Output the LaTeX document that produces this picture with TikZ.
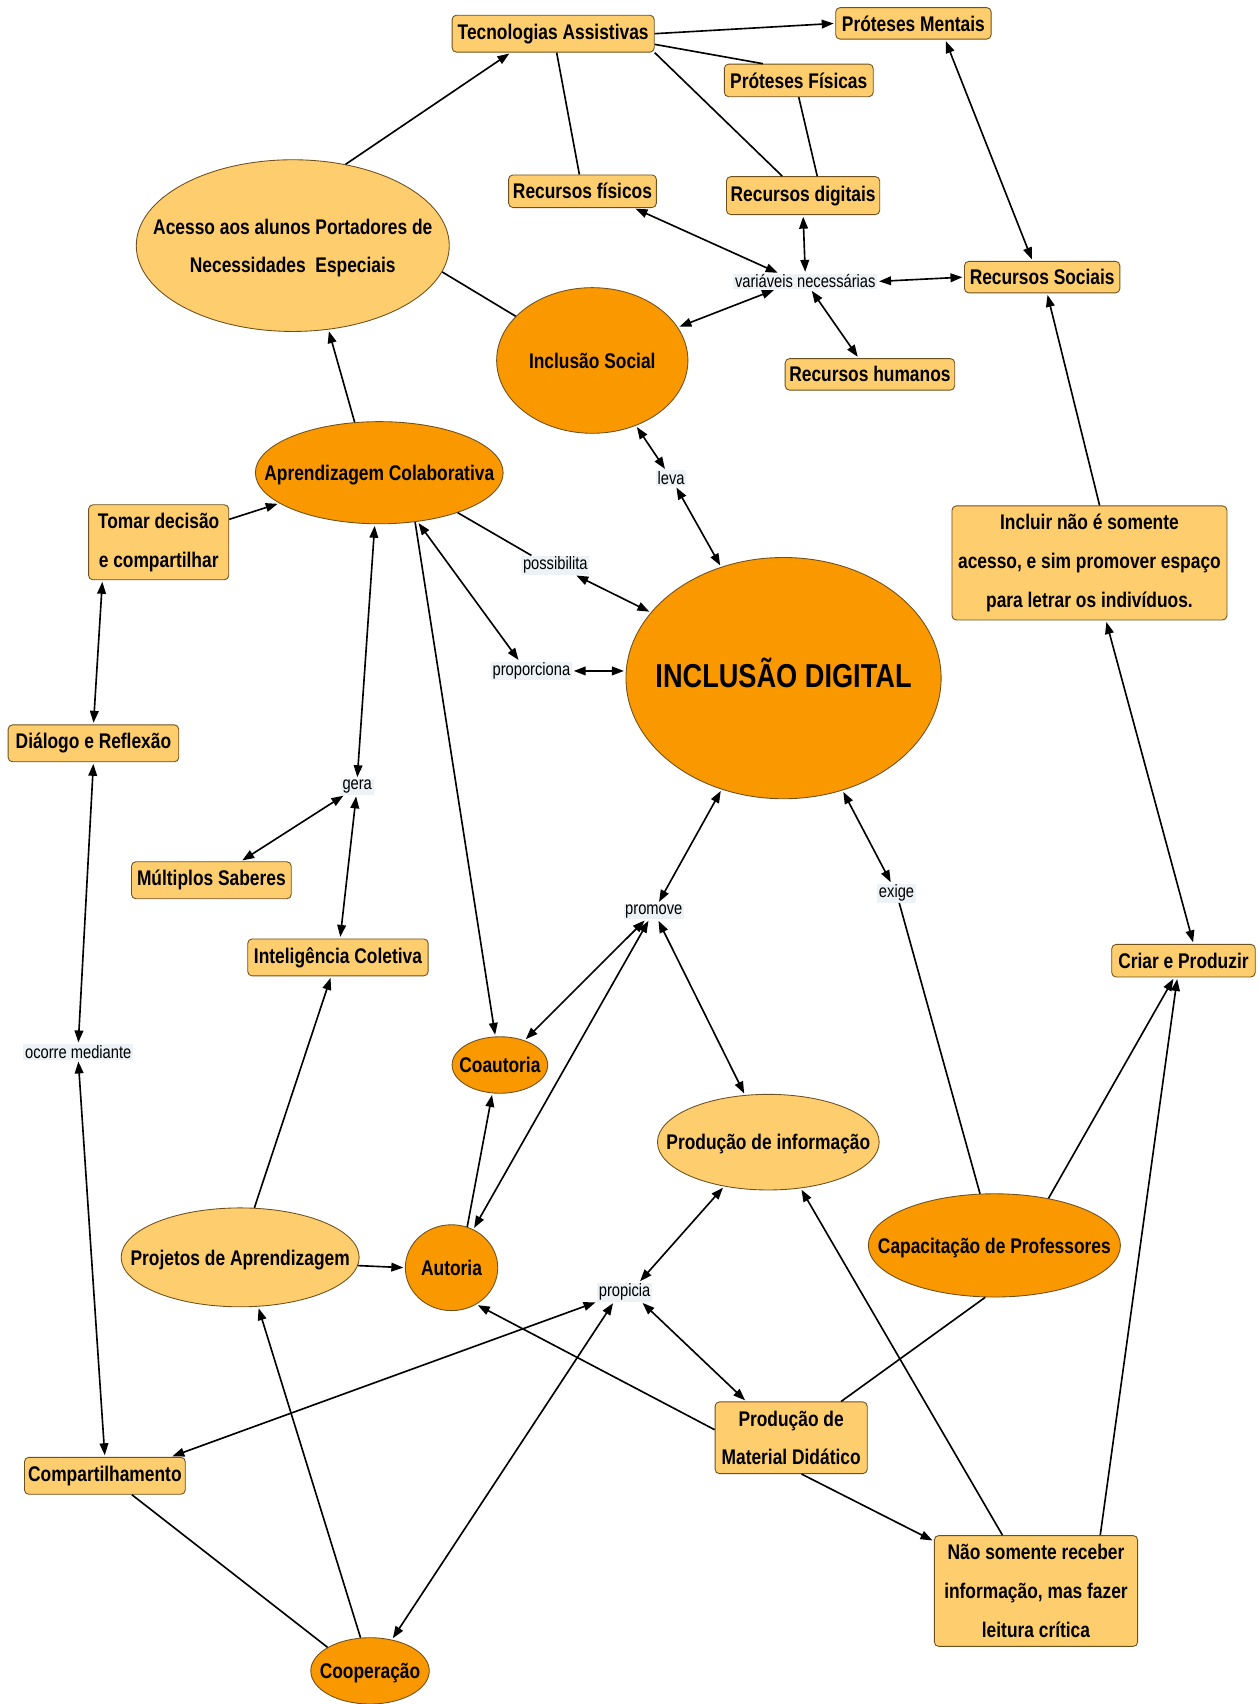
\documentclass[tikz,border=0pt]{standalone}
\usepackage{fontspec}
\setmainfont{Liberation Sans}[FakeStretch=0.82]
\usetikzlibrary{arrows.meta,calc,shapes.geometric}
\definecolor{lightor}{RGB}{254,206,110}
\definecolor{darkor}{RGB}{250,152,0}
\definecolor{edgecol}{RGB}{110,80,30}
\definecolor{labbg}{RGB}{236,242,246}
\newcommand{\etext}[1]{\makebox[0pt]{\begin{tabular}{@{}c@{}}#1\end{tabular}}}
\begin{document}
\begin{tikzpicture}[x=1pt,y=-1pt,
  nfont/.style={font=\fontsize{19.5}{35.5}\selectfont\bfseries},
  conc/.style={nfont, draw=edgecol, line width=0.8pt, fill=lightor, rounded corners=4pt, inner sep=2pt, align=center},
  eli/.style={nfont, ellipse, draw=edgecol, line width=0.8pt, inner sep=0pt},
  lite/.style={eli, fill=lightor},
  dark/.style={eli, fill=darkor},
  lab/.style={font=\fontsize{16.5}{18}\selectfont, fill=labbg, inner xsep=1.5pt, inner ysep=1pt},
  con/.style={line width=1.5pt},
  arr/.style={con, -{Triangle[length=11pt,width=8pt]}, shorten >=1.5pt},
  darr/.style={con, {Triangle[length=11pt,width=8pt]}-{Triangle[length=11pt,width=8pt]}, shorten >=1.5pt, shorten <=1.5pt},
]
\useasboundingbox[fill=white] (0,0) rectangle (1157,1568);

% concept boxes
\node[conc, minimum width=186pt, minimum height=34pt] (TA) at (509,31) {Tecnologias Assistivas};
\node[conc, minimum width=143pt, minimum height=29pt] (PM) at (840.5,21.5) {Próteses Mentais};
\node[conc, minimum width=137pt, minimum height=30pt] (PF) at (735,74) {Próteses Físicas};
\node[conc, minimum width=136pt, minimum height=30pt] (RF) at (536,176) {Recursos físicos};
\node[conc, minimum width=141pt, minimum height=35pt] (RD) at (739,180) {Recursos digitais};
\node[conc, minimum width=143pt, minimum height=29pt] (RS) at (959,255) {Recursos Sociais};
\node[conc, minimum width=156pt, minimum height=29pt] (RH) at (800.5,344.5) {Recursos humanos};
\node[conc, minimum width=129pt, minimum height=69pt] (TD) at (146,499) {Tomar decisão\\e compartilhar};
\node[conc, minimum width=253pt, minimum height=105pt] (IN) at (1002.5,518) {Incluir não é somente\\acesso, e sim promover espaço\\para letrar os indivíduos.};
\node[conc, minimum width=157pt, minimum height=34pt] (DR) at (86,684) {Diálogo e Reflexão};
\node[conc, minimum width=147pt, minimum height=34pt] (MS) at (194.5,810) {Múltiplos Saberes};
\node[conc, minimum width=166pt, minimum height=34pt] (IC) at (311,881) {Inteligência Coletiva};
\node[conc, minimum width=132pt, minimum height=30pt] (CP) at (1089,884) {Criar e Produzir};
\node[conc, minimum width=140pt, minimum height=66pt] (PMD) at (728,1323) {Produção de\\Material Didático};
\node[conc, minimum width=148pt, minimum height=34pt] (CO) at (96.5,1358) {Compartilhamento};
\node[conc, minimum width=187pt, minimum height=102pt] (NS) at (953.3,1464) {Não somente receber\\informação, mas fazer\\leitura crítica};

% ellipses
\node[lite, minimum width=288pt, minimum height=158pt] (AX) at (269.4,226) {\etext{Acesso aos alunos Portadores de\\Necessidades\ \ Especiais}};
\node[dark, minimum width=176pt, minimum height=134pt] (IS) at (545,331.7) {\etext{Inclusão Social}};
\node[dark, minimum width=228pt, minimum height=94pt] (AC) at (349,435) {\etext{Aprendizagem Colaborativa}};
\node[dark, minimum width=290pt, minimum height=222pt, font=\fontsize{30.5}{36}\selectfont\bfseries] (ID) at (721,624) {\etext{INCLUSÃO DIGITAL}};
\node[dark, minimum width=88pt, minimum height=52pt] (COA) at (460,980) {\etext{Coautoria}};
\node[lite, minimum width=204pt, minimum height=88pt] (PI) at (707,1051) {\etext{Produção de informação}};
\node[lite, minimum width=219pt, minimum height=91pt] (PA) at (221,1157) {\etext{Projetos de Aprendizagem}};
\node[dark, minimum width=85pt, minimum height=79pt] (AU) at (415.5,1166.5) {\etext{Autoria}};
\node[dark, minimum width=232pt, minimum height=95pt] (CAP) at (915,1146) {\etext{Capacitação de Professores}};
\node[dark, minimum width=109pt, minimum height=61pt] (COOP) at (340.5,1537.5) {\etext{Cooperação}};

% linking phrases
\node[lab] (var) at (741,259) {variáveis necessárias};
\node[lab] (leva) at (617.6,440) {leva};
\node[lab] (poss) at (511,520) {possibilita};
\node[lab] (prop) at (489,617.4) {proporciona};
\node[lab] (gera) at (328.7,724) {gera};
\node[lab] (exige) at (825,822) {exige};
\node[lab] (prom) at (601.6,838.6) {promove};
\node[lab] (om) at (72,968) {ocorre mediante};
\node[lab] (prp) at (574.8,1189) {propicia};

% connectors
\draw[arr] (AX.57) -- (TA.204);
\draw[arr] (TA.east) -- (PM.west);
\draw[con] (TA.-6) -- (PF.155);
\draw[con] (TA) -- (RF);
\draw[con] (TA.south east) -- (RD.137);
\draw[con] (PF.south) -- (RD.54);
\draw[darr] (PM.-27) -- (RS.121);
\draw[darr] (RF.-18) -- (var.163);
\draw[darr] (RD.south) -- (var.north);
\draw[darr] (var.east) -- (RS.west);
\draw[darr] (var.195) -- (IS);
\draw[darr] (var) -- (RH);
\draw[con] (AX.-10) -- (IS.150);
\draw[arr] (AC.116) -- (AX.-67);
\draw[arr] (TD.18) -- (AC.197);
\draw[darr] (TD.214) -- (DR.north);
\draw[darr] (DR.south) -- (om.north);
\draw[darr] (om.south) -- (CO.north);
\draw[darr] (AC.265) -- (gera.north);
\draw[darr] (gera) -- (MS);
\draw[darr] (gera) -- (IC);
\draw[arr] (AC.-54) -- (COA.99);
\draw[con] (AC.-27) -- (poss.158);
\draw[darr] (poss) -- (ID);
\draw[darr] (AC.-52) -- (prop.141);
\draw[darr] (prop.east) -- (prop.east -| ID.west);
\draw[darr] (IS) -- (leva);
\draw[darr] (leva) -- (ID);
\draw[darr] (ID) -- (prom);
\draw[darr] (ID) -- (exige);
\draw[con] (exige) -- (CAP);
\draw[darr] (prom) -- (COA);
\draw[darr] (prom) -- (AU);
\draw[darr] (prom) -- (PI);
\draw[arr] (IN.80) -- (RS.-73);
\draw[darr] (IN.-74) -- (CP.59);
\draw[arr] (CAP.41) -- (CP.241);
\draw[arr] (NS.41) -- (CP.250);
\draw[arr] (NS.121) -- (PI.-55);
\draw[con] (CAP.260) -- (PMD.36);
\draw[arr] (PMD.-74) -- (NS.154);
\draw[arr] (PMD.174) -- (AU.-56);
\draw[darr] (PMD.141) -- (prp.-30);
\draw[darr] (prp.34) -- (PI.225);
\draw[darr] (prp.south west) -- (CO.16);
\draw[darr] (prp.222) -- (COOP.55);
\draw[arr] (COOP.106) -- (PA.-70);
\draw[con] (CO.-35) -- (COOP.151);
\draw[arr] (PA.-4) -- (AU.west);
\draw[arr] (AU.69) -- (COA.255);
\draw[arr] (PA.74) -- (IC.250);
\end{tikzpicture}
\end{document}
